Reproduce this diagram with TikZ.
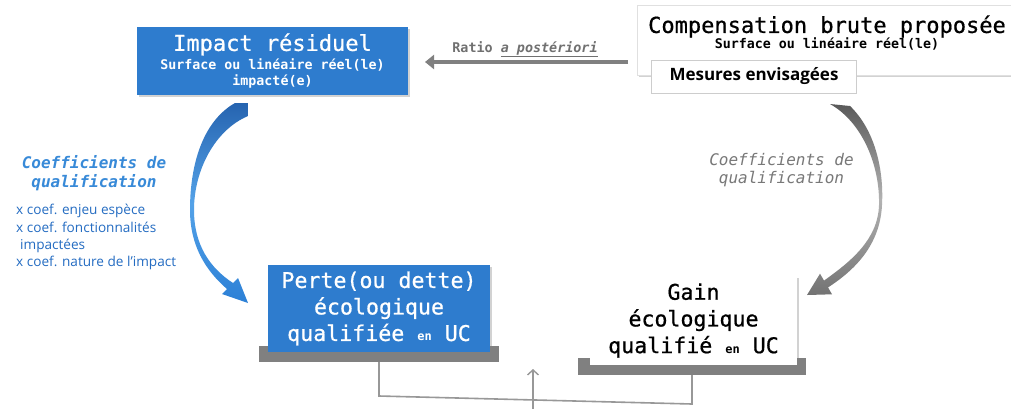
\documentclass[tikz,border=0pt]{standalone}
\usepackage{fontspec}
\usetikzlibrary{shadows,arrows.meta}
\newfontfamily\monofam{DejaVu Sans Mono}
\newfontfamily\monomid[FakeBold=0.7]{DejaVu Sans Mono}
\newfontfamily\labelfam{Open Sans}
\definecolor{boxblue}{RGB}{46,124,206}
\definecolor{coefblue}{RGB}{56,138,216}
\definecolor{listblue}{RGB}{36,108,194}
\definecolor{bargray}{RGB}{128,128,128}
\definecolor{wiregray}{RGB}{152,152,152}
\definecolor{ratiogray}{RGB}{112,112,112}
\definecolor{coefgray}{RGB}{120,120,120}
\definecolor{framegray}{RGB}{205,205,205}
\definecolor{arrowtop}{RGB}{38,100,176}
\definecolor{arrowmid}{RGB}{84,162,232}
\definecolor{arrowlow}{RGB}{44,128,214}
\begin{document}
\begin{tikzpicture}[x=1pt,y=-1pt,
  softshadow/.style={drop shadow={opacity=0.35, shadow xshift=2pt, shadow yshift=-2pt}},
  bluebox/.style={fill=boxblue, softshadow, text=white, align=center, inner sep=0pt},
  whitebox/.style={fill=white, softshadow, text=black, align=center, inner sep=0pt},
  basebar/.style={fill=bargray, draw=none, inner sep=0pt},
  wire/.style={draw=wiregray, line width=1.6pt},
  ratioarrow/.style={draw=bargray, line width=4.5pt, -{Triangle[length=9pt,width=14pt]}},
  plain/.style={inner sep=0pt}
]
\useasboundingbox (0,0) rectangle (1011,408);
\fill[white] (0,0) rectangle (1011,408);

% tapered curved arrow, impact -> loss
\shade[top color=arrowtop, bottom color=arrowlow, middle color=arrowmid]
  (235,103) -- (248,103) -- (248,116)
  .. controls (215,130) and (194,170) .. (194,210)
  .. controls (194,245) and (210,268) .. (233,283)
  -- (238,278) -- (248,303) -- (222,294) -- (227,289)
  .. controls (205,270) and (190,245) .. (190,210)
  .. controls (190,160) and (205,120) .. (235,103) -- cycle;

% tapered curved arrow, compensation -> gain
\shade[top color=black!65, bottom color=black!55, middle color=black!30]
  (830,104) -- (850,106)
  .. controls (875,130) and (884,170) .. (882,205)
  .. controls (880,245) and (855,270) .. (828,287.4)
  -- (832,294.3) -- (807,295) -- (820,273.7) -- (824,280.6)
  .. controls (850,262) and (878,240) .. (879,205)
  .. controls (880,165) and (862,122) .. (830,104) -- cycle;

% top boxes
\node[bluebox, minimum width=271pt, minimum height=68pt,
      font=\monofam\fontsize{13.3}{16}\selectfont] (impact) at (272.5,61)
  {{\monomid\fontsize{22}{22}\selectfont Impact résiduel}\\[3pt]\textbf{Surface ou linéaire réel(le)}\\\textbf{impacté(e)}};

\node[whitebox, draw=black!12, line width=0.6pt, minimum width=380pt, minimum height=70pt] (comp) at (827,40) {};
\node[plain, align=center, font=\monofam\fontsize{13.3}{16}\selectfont] (comptext) at (827,33)
  {{\monomid\fontsize{22}{22}\selectfont Compensation brute proposée}\\\textbf{Surface ou linéaire réel(le)}};
\node[fill=white, draw=framegray, line width=0.8pt, minimum width=205pt, minimum height=33pt,
      inner sep=0pt, font=\labelfam\bfseries\fontsize{17}{20}\selectfont] (mesures) at (754,76.5)
  {Mesures envisagées};

% ratio arrow
\coordinate (ratioFrom) at (628,62);
\coordinate (ratioTo) at (425,62);
\draw[ratioarrow] (ratioFrom) -- (ratioTo);
\node[plain, anchor=base, text=ratiogray, font=\monofam\bfseries\fontsize{13.4}{16}\selectfont]
  (ratiotext) at (525,52) {Ratio \textit{\underline{a postériori}}};

% qualification coefficients (anchored on the baseline of the last line)
\node[plain, anchor=base, align=center, text=coefblue,
      font=\monofam\bfseries\itshape\fontsize{16}{19}\selectfont] (coefL) at (94,187)
  {Coefficients de\\qualification};
\node[plain, anchor=base west, align=left, text=listblue,
      font=\labelfam\fontsize{13.6}{17.2}\selectfont] (coeflist) at (16,266.5)
  {x coef. enjeu espèce\\x coef. fonctionnalités\\\hspace*{4pt}impactées\\x coef. nature de l’impact};
\node[plain, anchor=base, align=center, text=coefgray,
      font=\monofam\itshape\fontsize{16}{18.5}\selectfont] (coefR) at (781.5,183.5)
  {Coefficients de\\qualification};

% bottom boxes
\node[basebar, minimum width=240pt, minimum height=16pt] (pbar) at (379,354) {};
\node[bluebox, minimum width=222pt, minimum height=87pt,
      font=\monomid\fontsize{21.6}{26.5}\selectfont] (perte) at (379,308.5)
  {Perte(ou dette)\\écologique\\qualifiée {\monofam\bfseries\fontsize{12}{12}\selectfont en} UC};

\node[basebar, minimum width=228pt, minimum height=17pt] (gbar) at (692,366.5) {};
\node[whitebox, minimum width=207pt, minimum height=89pt,
      font=\monomid\fontsize{21.6}{26.7}\selectfont] (gain) at (693.5,320.5)
  {Gain\\écologique\\qualifié {\monofam\bfseries\fontsize{12}{12}\selectfont en} UC};

% link between the two results and the incoming arrow
\draw[wire] (pbar.south) -- (379,396) -- (692,404) -- (gbar.south);
\coordinate (feedbase) at (533,410);
\coordinate (feedtip) at (533,369);
\draw[wire, line width=1.4pt, -{Straight Barb[length=5pt,width=11pt]}] (feedbase) -- (feedtip);
\end{tikzpicture}
\end{document}
